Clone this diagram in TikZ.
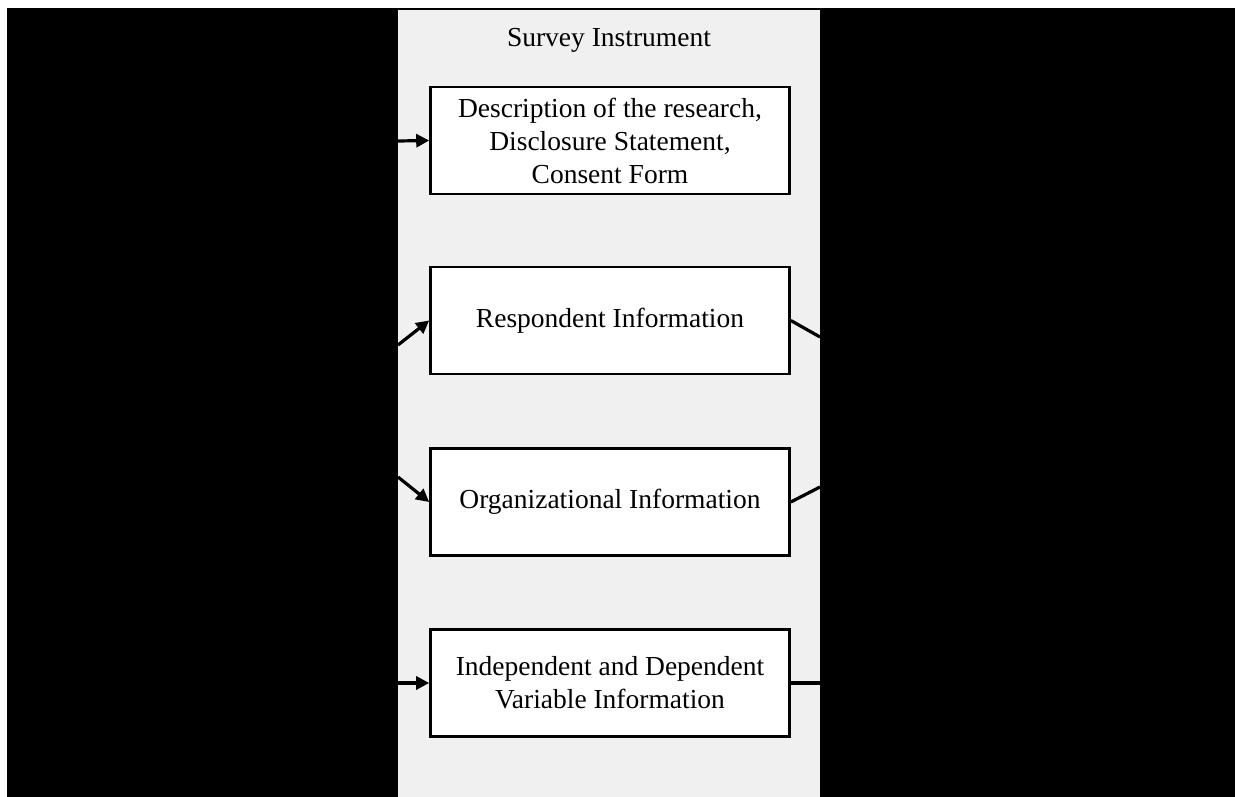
\documentclass[tikz,border=0pt]{standalone}
\usepackage{fontspec}
\setmainfont{Liberation Serif}
\usetikzlibrary{arrows.meta}
\definecolor{panelgray}{HTML}{F0F0F0}
\tikzset{
  stagebox/.style={draw=black, line width=2.6pt, fill=white, minimum width=359pt, minimum height=107pt, inner sep=0pt, align=center, font=\fontsize{27.5}{33}\selectfont},
  inlink/.style={line width=3.2pt, -{Triangle[length=13pt,width=13pt]}},
  outlink/.style={line width=3.2pt}
}
\begin{document}
\begin{tikzpicture}[x=1pt,y=-1pt]
\useasboundingbox (0,0) rectangle (1235,797);
\fill[white] (0,0) rectangle (1235,797);
\fill[black] (7,8) rectangle (1235,797);
\fill[panelgray] (398,10) rectangle (820,797);
\node[font=\fontsize{27.5}{33}\selectfont, anchor=base] (title) at (609,47) {Survey Instrument};
\node[stagebox] (b1) at (610,140.5) {Description of the research,\\Disclosure Statement,\\Consent Form};
\node[stagebox] (b2) at (610,320.5) {Respondent Information};
\node[stagebox] (b3) at (610,502) {Organizational Information};
\node[stagebox] (b4) at (610,683) {Independent and Dependent\\Variable Information};
\coordinate (i1) at (398,141);
\coordinate (i2) at (398,345);
\coordinate (i3) at (398,477);
\coordinate (i4) at (398,683);
\coordinate (o2) at (820,337);
\coordinate (o3) at (820,487);
\coordinate (o4) at (820,683);
\draw[inlink] (i1) -- (b1.west);
\draw[inlink] (i2) -- (b2.west);
\draw[inlink] (i3) -- (b3.west);
\draw[inlink] (i4) -- (b4.west);
\draw[outlink] (b2.east) -- (o2);
\draw[outlink] (b3.east) -- (o3);
\draw[outlink] (b4.east) -- (o4);
\end{tikzpicture}
\end{document}
